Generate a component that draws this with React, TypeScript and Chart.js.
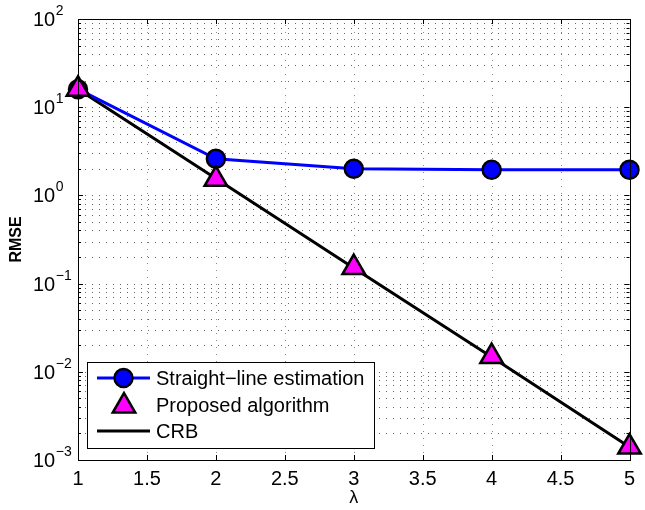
import React, { useEffect, useRef } from 'react';
import { Chart, registerables } from 'chart.js';

Chart.register(...registerables);

// ---------- data ----------
const lambdas = [1, 2, 3, 4, 5];
const straightLine = [16, 2.6, 2.0, 1.95, 1.95];
const proposed = [16, 1.52, 0.152, 0.0149, 0.0014];
const crb = [16, 1.55, 0.15, 0.0147, 0.0014];
const xTicks = [1, 1.5, 2, 2.5, 3, 3.5, 4, 4.5, 5];
const yExponents = [-3, -2, -1, 0, 1, 2];
const minorMultipliers = [2, 3, 4, 5, 6, 7, 8, 9];
const seriesLabels = ['Straight\u2212line estimation', 'Proposed algorithm', 'CRB'];
const xTitle = '\u03bb';
const yTitle = 'RMSE';

const FONT = '"Liberation Sans", Arial, Helvetica, sans-serif';

function drawCircle(ctx: CanvasRenderingContext2D, x: number, y: number, r: number, fill: string, bw: number) {
  ctx.beginPath();
  ctx.arc(x, y, r, 0, Math.PI * 2);
  ctx.fillStyle = fill;
  ctx.fill();
  ctx.lineWidth = bw;
  ctx.strokeStyle = '#000';
  ctx.stroke();
}

function drawTriangle(ctx: CanvasRenderingContext2D, x: number, y: number, r: number, fill: string, bw: number) {
  ctx.beginPath();
  let rad = 0;
  ctx.moveTo(x + Math.sin(rad) * r, y - Math.cos(rad) * r);
  rad += (2 * Math.PI) / 3;
  ctx.lineTo(x + Math.sin(rad) * r, y - Math.cos(rad) * r);
  rad += (2 * Math.PI) / 3;
  ctx.lineTo(x + Math.sin(rad) * r, y - Math.cos(rad) * r);
  ctx.closePath();
  ctx.fillStyle = fill;
  ctx.fill();
  ctx.lineWidth = bw;
  ctx.strokeStyle = '#000';
  ctx.stroke();
}

const matlabPlugin = {
  id: 'matlabAxes',
  beforeDatasetsDraw(chart: any) {
    const { ctx, chartArea: a, scales } = chart;
    const xs = scales.x;
    const ys = scales.y;
    ctx.save();
    ctx.lineWidth = 1;
    ctx.setLineDash([1, 6]);
    // vertical grid
    ctx.strokeStyle = 'rgba(0,0,0,0.45)';
    xTicks.forEach((t) => {
      const px = Math.round(xs.getPixelForValue(t)) + 0.5;
      if (px <= a.left + 1 || px >= a.right - 1) return;
      ctx.beginPath();
      ctx.moveTo(px, a.bottom);
      ctx.lineTo(px, a.top);
      ctx.stroke();
    });
    // horizontal grid (major + minor)
    ctx.strokeStyle = 'rgba(0,0,0,0.6)';
    yExponents.forEach((e) => {
      const vals = [1, ...minorMultipliers].map((m) => m * Math.pow(10, e));
      vals.forEach((v) => {
        if (v > 100.0001) return;
        const py = Math.round(ys.getPixelForValue(v)) + 0.5;
        if (py <= a.top + 1 || py >= a.bottom - 1) return;
        ctx.beginPath();
        ctx.moveTo(a.left, py);
        ctx.lineTo(a.right, py);
        ctx.stroke();
      });
    });
    ctx.restore();
  },
  afterDraw(chart: any) {
    const { ctx, chartArea: a, scales } = chart;
    const xs = scales.x;
    const ys = scales.y;
    ctx.save();
    ctx.setLineDash([]);
    // box
    ctx.strokeStyle = '#000';
    ctx.lineWidth = 1;
    ctx.strokeRect(Math.round(a.left) + 0.5, Math.round(a.top) + 0.5, Math.round(a.right - a.left), Math.round(a.bottom - a.top));
    // x ticks
    ctx.beginPath();
    xTicks.forEach((t) => {
      const px = Math.round(xs.getPixelForValue(t)) + 0.5;
      ctx.moveTo(px, a.bottom);
      ctx.lineTo(px, a.bottom - 5);
      ctx.moveTo(px, a.top);
      ctx.lineTo(px, a.top + 5);
    });
    // y ticks
    yExponents.forEach((e) => {
      const vals = [1, ...minorMultipliers].map((m) => ({ v: m * Math.pow(10, e), major: m === 1 }));
      vals.forEach(({ v, major }) => {
        if (v > 100.0001) return;
        const py = Math.round(ys.getPixelForValue(v)) + 0.5;
        const len = major ? 5 : 3;
        ctx.moveTo(a.left, py);
        ctx.lineTo(a.left + len, py);
        ctx.moveTo(a.right, py);
        ctx.lineTo(a.right - len, py);
      });
    });
    ctx.stroke();

    // x tick labels
    ctx.fillStyle = '#000';
    ctx.font = `20px ${FONT}`;
    ctx.textAlign = 'center';
    ctx.textBaseline = 'alphabetic';
    xTicks.forEach((t) => {
      const px = xs.getPixelForValue(t);
      ctx.fillText(String(t), px, a.bottom + 25);
    });

    // y tick labels 10^e
    yExponents.forEach((e) => {
      const py = ys.getPixelForValue(Math.pow(10, e));
      ctx.font = `20px ${FONT}`;
      ctx.textAlign = 'left';
      const x0 = 33;
      ctx.fillText('10', x0, py + 7);
      const w = ctx.measureText('10').width;
      ctx.font = `14px ${FONT}`;
      const sup = e < 0 ? '\u2212' + String(-e) : String(e);
      ctx.fillText(sup, x0 + w + 0.5, py - 4);
    });

    // axis titles
    ctx.font = `18px ${FONT}`;
    ctx.textAlign = 'center';
    ctx.fillText(xTitle, (a.left + a.right) / 2, a.bottom + 43);
    ctx.save();
    ctx.translate(17, (a.top + a.bottom) / 2);
    ctx.rotate(-Math.PI / 2);
    ctx.font = `bold 16px ${FONT}`;
    ctx.textBaseline = 'middle';
    ctx.fillText(yTitle, 0, 0);
    ctx.restore();

    // legend
    const lx = 87, ly = 362, lw = 287, lh = 86;
    ctx.fillStyle = '#fff';
    ctx.fillRect(lx, ly, lw, lh);
    ctx.strokeStyle = '#000';
    ctx.lineWidth = 1;
    ctx.strokeRect(lx + 0.5, ly + 0.5, lw, lh);
    const rows = [378, 405, 431];
    const ds = chart.data.datasets;
    const order = [1, 0, 2]; // dataset index for each legend row
    rows.forEach((ry, i) => {
      const d = ds[order[i]];
      if (d.showLine !== false) {
        ctx.beginPath();
        ctx.strokeStyle = d.borderColor;
        ctx.lineWidth = d.borderWidth;
        ctx.moveTo(97, ry);
        ctx.lineTo(150, ry);
        ctx.stroke();
      }
      if (d.pointRadius > 0) {
        if (d.pointStyle === 'triangle') {
          drawTriangle(ctx, 124, ry + 1, d.pointRadius, d.pointBackgroundColor, d.pointBorderWidth);
        } else {
          drawCircle(ctx, 123.5, ry, d.pointRadius, d.pointBackgroundColor, d.pointBorderWidth);
        }
      }
      ctx.fillStyle = '#000';
      ctx.font = `20px ${FONT}`;
      ctx.textAlign = 'left';
      ctx.textBaseline = 'middle';
      ctx.fillText(d.label, 156, ry + 1);
    });
    ctx.restore();
  },
};

export default function App() {
  const canvasRef = useRef<HTMLCanvasElement | null>(null);

  useEffect(() => {
    document.body.style.margin = '0';
    const canvas = canvasRef.current;
    if (!canvas) return;
    const toPts = (vals: number[]) => lambdas.map((x, i) => ({ x, y: vals[i] }));
    const chart = new Chart(canvas, {
      type: 'line',
      data: {
        datasets: [
          {
            label: seriesLabels[1],
            data: toPts(proposed),
            showLine: false,
            borderColor: '#000',
            borderWidth: 0,
            pointStyle: 'triangle',
            pointRadius: 13,
            pointBackgroundColor: '#ff00ff',
            pointBorderColor: '#000',
            pointBorderWidth: 2.5,
            clip: false,
          } as any,
          {
            label: seriesLabels[0],
            data: toPts(straightLine),
            borderColor: '#0000ff',
            borderWidth: 3,
            pointStyle: 'circle',
            pointRadius: 9,
            pointBackgroundColor: '#0000ff',
            pointBorderColor: '#000',
            pointBorderWidth: 2.5,
            tension: 0,
            clip: false,
          } as any,
          {
            label: seriesLabels[2],
            data: toPts(crb),
            borderColor: '#000',
            borderWidth: 3,
            pointRadius: 0,
            tension: 0,
            clip: false,
          } as any,
        ],
      },
      options: {
        responsive: false,
        animation: false,
        events: [],
        layout: { padding: { left: 78, right: 7, top: 19, bottom: 50 } },
        plugins: { legend: { display: false }, tooltip: { enabled: false } },
        scales: {
          x: {
            type: 'linear',
            min: 1,
            max: 5,
            grid: { display: false },
            border: { display: false },
            ticks: { display: false },
            afterFit: (s: any) => { s.height = 0; },
          },
          y: {
            type: 'logarithmic',
            min: 0.001,
            max: 100,
            grid: { display: false },
            border: { display: false },
            ticks: { display: false },
            afterFit: (s: any) => { s.width = 0; },
          },
        },
      } as any,
      plugins: [matlabPlugin],
    });
    return () => chart.destroy();
  }, []);

  return <canvas ref={canvasRef} width={645} height={510} style={{ display: 'block' }} />;
}
